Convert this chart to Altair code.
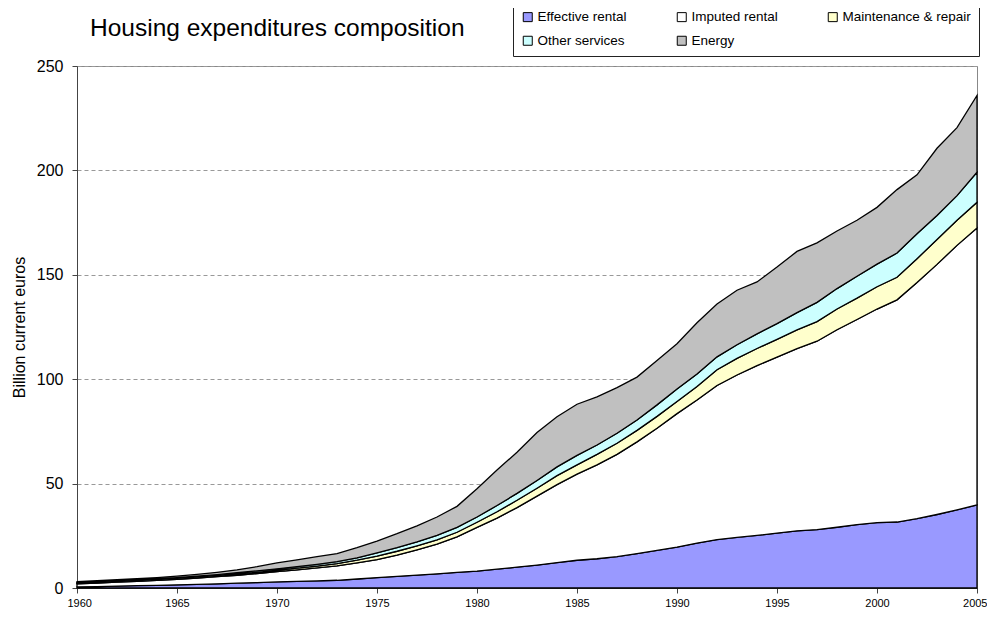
import altair as alt
import pandas as pd

years = list(range(1960, 2006))

series_names = ["Effective rental", "Imputed rental", "Maintenance & repair",
                "Other services", "Energy"]
series_colors = ["#9999FF", "#FFFFFF", "#FFFFCC", "#CCFFFF", "#C0C0C0"]
# legend fills column by column (2 rows): this order puts the entries in the reference's reading order
legend_order = ["Effective rental", "Other services", "Imputed rental", "Energy",
                "Maintenance & repair"]

effective = [0.5, 0.7, 0.9, 1.1, 1.3, 1.5, 1.7, 2.0, 2.3, 2.6,
             2.9, 3.2, 3.4, 3.7, 4.3, 5.0, 5.6, 6.2, 6.8, 7.5,
             8.1, 9.0, 10.0, 11.0, 12.2, 13.3, 14.0, 15.0, 16.5, 18.0,
             19.6, 21.5, 23.2, 24.2, 25.2, 26.3, 27.4, 28.0, 29.1, 30.4,
             31.3, 31.6, 33.2, 35.2, 37.4, 39.8]
imputed = [1.5, 1.7, 1.9, 2.1, 2.4, 2.7, 3.1, 3.4, 3.8, 4.3,
           4.9, 5.5, 6.2, 6.9, 7.7, 8.6, 10.2, 12.1, 14.2, 17.0,
           20.9, 24.5, 28.5, 33.0, 37.3, 41.2, 45.0, 49.0, 53.5, 58.5,
           63.9, 68.5, 73.8, 77.8, 81.3, 84.3, 87.2, 90.2, 94.6, 98.2,
           102.3, 106.4, 113.1, 119.8, 126.7, 132.6]
maintenance = [0.3, 0.3, 0.3, 0.3, 0.3, 0.4, 0.4, 0.5, 0.6, 0.6,
               0.7, 0.8, 0.9, 1.1, 1.3, 1.7, 1.8, 1.9, 2.0, 2.2,
               2.5, 3.0, 3.5, 3.8, 4.3, 4.5, 5.0, 5.3, 5.5, 5.7,
               5.8, 6.5, 7.5, 8.0, 8.2, 8.5, 9.0, 9.4, 9.9, 10.2,
               10.7, 10.8, 11.4, 11.9, 12.0, 12.3]
other = [0.3, 0.3, 0.4, 0.4, 0.4, 0.4, 0.5, 0.5, 0.6, 0.7,
         0.7, 0.7, 0.8, 0.9, 1.1, 1.5, 1.7, 1.9, 2.2, 2.3,
         2.5, 3.0, 3.3, 3.7, 4.2, 4.5, 4.5, 4.8, 5.0, 5.5,
         6.0, 6.0, 6.2, 6.5, 7.0, 7.5, 8.3, 9.2, 9.8, 10.5,
         10.8, 11.6, 12.0, 11.5, 11.8, 14.4]
energy = [0.4, 0.5, 0.5, 0.6, 0.6, 0.7, 0.8, 1.1, 1.4, 2.0,
          2.8, 3.3, 3.7, 3.9, 4.9, 5.7, 6.7, 7.7, 8.8, 10.1,
          13.5, 17.0, 19.7, 23.0, 24.0, 24.5, 23.0, 21.9, 20.5, 21.3,
          21.7, 24.5, 25.3, 26.1, 24.9, 27.1, 29.3, 28.5, 27.6, 26.8,
          27.2, 30.4, 28.2, 32.2, 32.6, 36.8]

x_ticks = list(range(1960, 2006, 5))
y_ticks = [0, 50, 100, 150, 200, 250]
title_text = "Housing expenditures composition"
y_title = "Billion current euros"

FONT = "Liberation Sans"

rows = []
for idx, (name, vals) in enumerate(zip(series_names,
                                       [effective, imputed, maintenance, other, energy])):
    for yr, v in zip(years, vals):
        rows.append({"year": yr, "value": v, "series": name, "idx": idx})
df = pd.DataFrame(rows)

color_map = dict(zip(series_names, series_colors))

areas = alt.Chart(df).mark_area(stroke="black", strokeWidth=1.3, interpolate="linear").encode(
    x=alt.X("year:Q",
            scale=alt.Scale(domain=[1960, 2005], nice=False, zero=False),
            axis=alt.Axis(values=x_ticks, format="d", title=None, grid=False,
                          labelFontSize=11, labelFont=FONT, labelColor="black",
                          tickSize=5, tickColor="#444", domainColor="#444",
                          labelPadding=4, labelFlush=True, labelFlushOffset=10)),
    y=alt.Y("value:Q", stack="zero",
            scale=alt.Scale(domain=[0, 250], nice=False),
            axis=alt.Axis(values=y_ticks, title=y_title, grid=True,
                          gridDash=[4, 3], gridColor="#999", gridWidth=1,
                          labelFontSize=16, labelFont=FONT, labelColor="black",
                          titleFontSize=16, titleFont=FONT, titleFontWeight="normal",
                          titleColor="black", titlePadding=9,
                          tickSize=5, tickColor="#444", domainColor="#444",
                          labelPadding=9)),
    color=alt.Color("series:N",
                    scale=alt.Scale(domain=legend_order,
                                    range=[color_map[n] for n in legend_order]),
                    legend=alt.Legend(title=None)),
    order=alt.Order("idx:Q", sort="ascending"),
)

title_layer = alt.Chart(pd.DataFrame({"t": [title_text]})).mark_text(
    align="left", baseline="alphabetic", fontSize=24.5, font=FONT, color="black"
).encode(x=alt.value(13), y=alt.value(-30), text="t:N")

chart = alt.layer(areas, title_layer).properties(
    width=900, height=522,
    autosize=alt.AutoSizeParams(type="none"),
    padding={"left": 69, "top": 58, "right": 10, "bottom": 20},
).configure_view(
    stroke="#888", strokeWidth=1
).configure_legend(
    orient="none", legendX=436, legendY=-64, columns=3,
    strokeColor="#222", fillColor="white", padding=8,
    symbolType="square", symbolSize=81, symbolStrokeColor="black",
    symbolStrokeWidth=1, labelFontSize=13.5, labelFont=FONT, labelColor="black",
    columnPadding=48, rowPadding=9, labelOffset=3,
)

chart.save("out.html", embed_options={"renderer": "svg", "actions": False})
